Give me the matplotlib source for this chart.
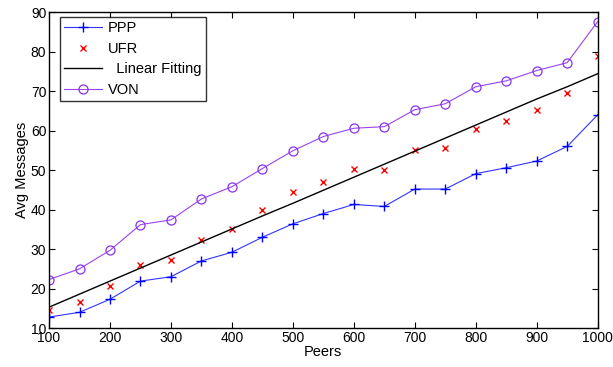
import numpy as np
import matplotlib.pyplot as plt

plt.rcParams['font.family'] = ['Liberation Sans', 'DejaVu Sans']

peers = [100, 150, 200, 250, 300, 350, 400, 450, 500, 550, 600, 650, 700, 750, 800, 850, 900, 950, 1000]
ppp = [12.8, 14.0, 17.3, 21.9, 23.0, 27.0, 29.2, 33.0, 36.4, 39.0, 41.3, 40.8, 45.2, 45.2, 49.1, 50.6, 52.3, 56.0, 64.0]
ufr = [14.7, 16.6, 20.6, 26.1, 27.3, 32.3, 35.2, 39.9, 44.5, 47.1, 50.2, 50.0, 55.1, 55.6, 60.4, 62.4, 65.1, 69.4, 79.0]
fit = [15.3, 18.6, 21.9, 25.2, 28.5, 31.8, 35.1, 38.4, 41.6, 44.9, 48.2, 51.5, 54.8, 58.1, 61.4, 64.7, 68.0, 71.1, 74.4]
von = [22.3, 25.0, 29.7, 36.2, 37.4, 42.7, 45.8, 50.4, 54.9, 58.5, 60.6, 61.0, 65.3, 66.8, 71.1, 72.6, 75.2, 77.2, 87.6]

fig = plt.figure(figsize=(6.13, 3.67), dpi=100)
ax = fig.add_axes([0.080, 0.106, 0.895, 0.861])

ax.plot(peers, ppp, color='#3333ff', lw=0.8, marker='+', ms=7, mew=1.0, mec='#0000ff', label='PPP')
ax.plot(peers, ufr, color='red', ls='none', marker='x', ms=4, mew=1.0, label='UFR')
ax.plot(peers, fit, color='black', lw=1.0, label='  Linear Fitting')
ax.plot(peers, von, color='#9944ee', lw=0.8, marker='o', ms=6.5, mfc='none', mew=0.9, mec='#8833ee', label='VON')

ax.set_xlim(100, 1000)
ax.set_ylim(10, 90)
ax.set_xticks(range(100, 1001, 100))
ax.set_yticks(range(10, 91, 10))
ax.tick_params(direction='in', top=True, right=True, labelsize=10, length=4, width=0.8, pad=2)
for s in ax.spines.values():
    s.set_linewidth(1.0)
ax.set_xlabel('Peers', fontsize=10.5, labelpad=0)
ax.set_ylabel('Avg Messages', fontsize=10.5, labelpad=1)

leg = ax.legend(loc='upper left', fontsize=10.5, frameon=True, fancybox=False,
                edgecolor='black', bbox_to_anchor=(0.02, 0.985), borderaxespad=0,
                handlelength=2.6, handletextpad=0.4,
                labelspacing=0.45, borderpad=0.3)
leg.get_frame().set_linewidth(1.0)

fig.savefig('out.png', dpi=100)
